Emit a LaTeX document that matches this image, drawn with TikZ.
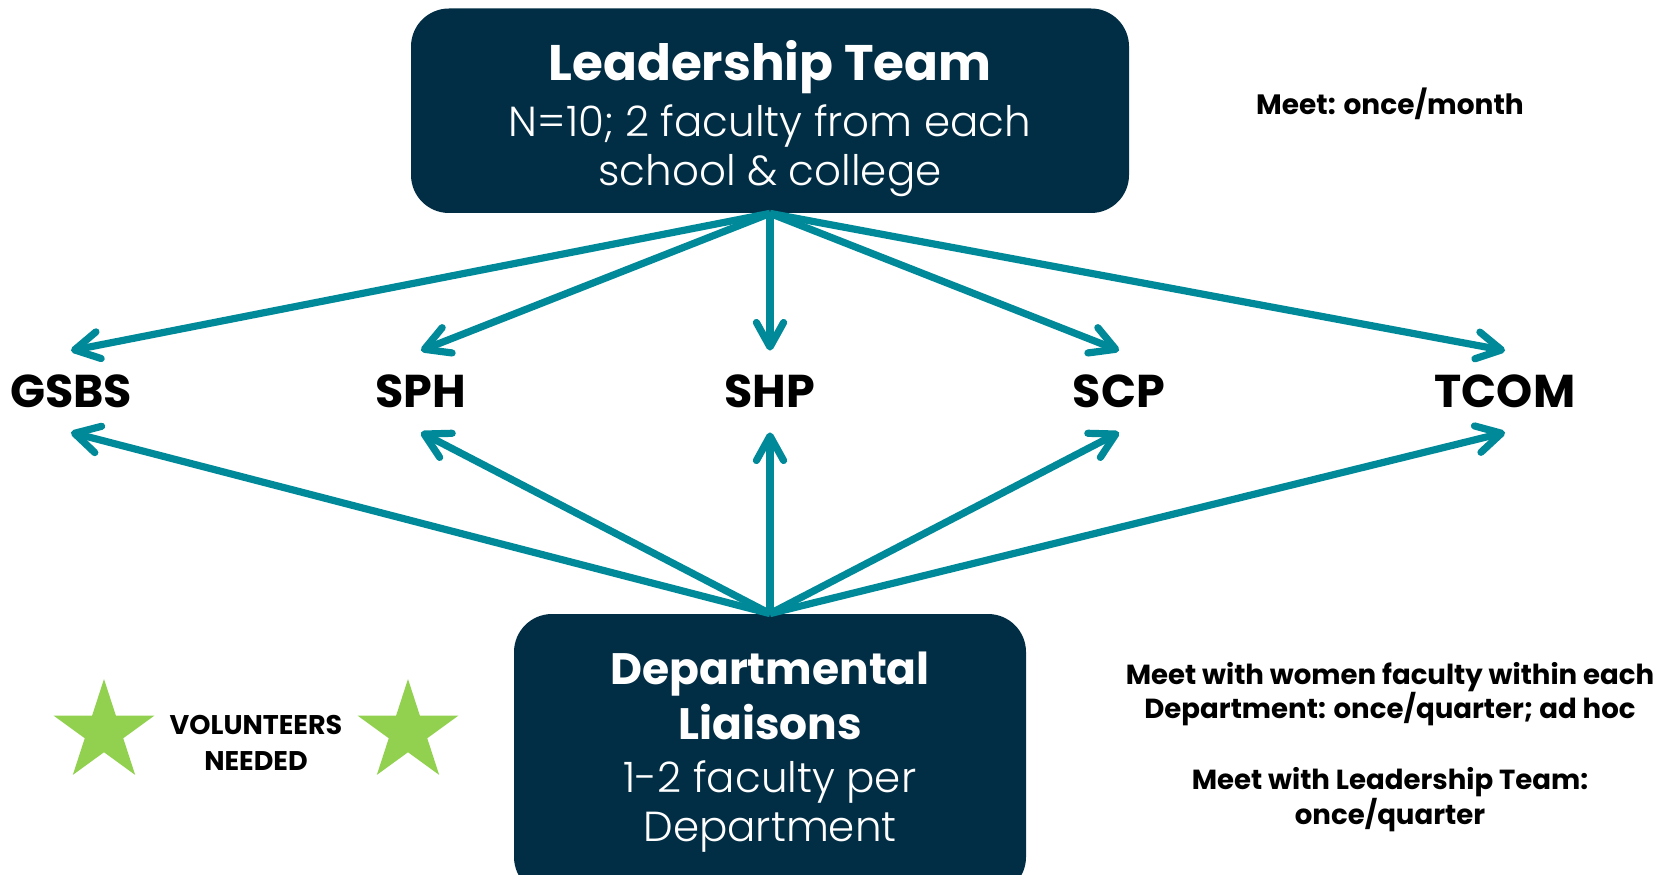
\documentclass[tikz,border=0pt]{standalone}
\usepackage{fontspec}
\setmainfont{Poppins}
\newfontface\lightfont{Poppins Light}
\usetikzlibrary{shapes.geometric, arrows.meta, positioning}

\definecolor{groupnavy}{HTML}{022E45}
\definecolor{linkteal}{HTML}{008A99}
\definecolor{stargreen}{HTML}{92D050}

\newcommand{\headfont}{\rmfamily\bfseries\fontsize{25}{30}\selectfont}
\newcommand{\liaisfont}{\rmfamily\bfseries\fontsize{22}{26}\selectfont}

\begin{document}
\begin{tikzpicture}[
    x=0.5pt, y=0.5pt,
    >={Straight Barb[angle=58:14pt, round]},
    group/.style={
        rectangle, rounded corners=19pt, fill=groupnavy, text=white,
        align=center, inner sep=0pt,
        font=\lightfont\fontsize{21}{24.5}\selectfont
    },
    school/.style={
        font=\fontsize{23}{23}\selectfont\bfseries, inner sep=0pt,
        minimum height=40.5pt
    },
    note/.style={
        align=center, inner sep=0pt,
        font=\fontsize{13.8}{17.25}\selectfont\bfseries
    },
    bigstar/.style={
        star, star points=5, star point ratio=2.618, fill=stargreen,
        minimum size=53pt, inner sep=0pt
    },
    arrow/.style={->, line width=3.6pt, draw=linkteal},
]
\useasboundingbox (0,0) rectangle (1673,874);

% Leadership Team
\node[group, minimum width=359pt, minimum height=102.25pt] (lead) at (770,763.25)
    {\rule{0pt}{32.5pt}{\headfont Leadership Team}\\[3.25pt]
     N=10; 2 faculty from each\\school \& college\rule[-10pt]{0pt}{0pt}};
\node[note, font=\fontsize{14}{17}\selectfont\bfseries] (leadmeet) at (1390,770)
    {Meet: once/month};

% Schools and colleges
\node[school] (gsbs) at (71,482.5) {GSBS};
\node[school] (sph) at (421,482.5) {SPH};
\node[school] (shp) at (770,482.5) {SHP};
\node[school] (scp) at (1119,482.5) {SCP};
\node[school] (tcom) at (1505,482.5) {TCOM};

% Departmental Liaisons
\node[group, minimum width=256pt, minimum height=140.5pt] (liais) at (770,119.5)
    {\rule{0pt}{21.5pt}{\liaisfont Departmental}\\[3.25pt]
     {\liaisfont Liaisons}\\[1.75pt]
     1-2 faculty per\\Department\rule[-13.2pt]{0pt}{0pt}};
\node[note] (liaismeet) at (1390,180)
    {Meet with women faculty within each\\Department: once/quarter; ad hoc};
\node[note] (leadmeet2) at (1390,74.5) {Meet with Leadership Team:\\once/quarter};

% Volunteers
\node[bigstar] (starl) at (104,142) {};
\node[note, font=\fontsize{13.5}{17.75}\selectfont\bfseries] (vol) at (256,131)
    {VOLUNTEERS\\NEEDED};
\node[bigstar] (starr) at (408,142) {};

% Arrows
\foreach \s in {gsbs, sph, shp, scp, tcom} {
    \draw[arrow] (lead.south) -- (\s.north);
    \draw[arrow] (liais.north) -- (\s.south);
}

\end{tikzpicture}
\end{document}
